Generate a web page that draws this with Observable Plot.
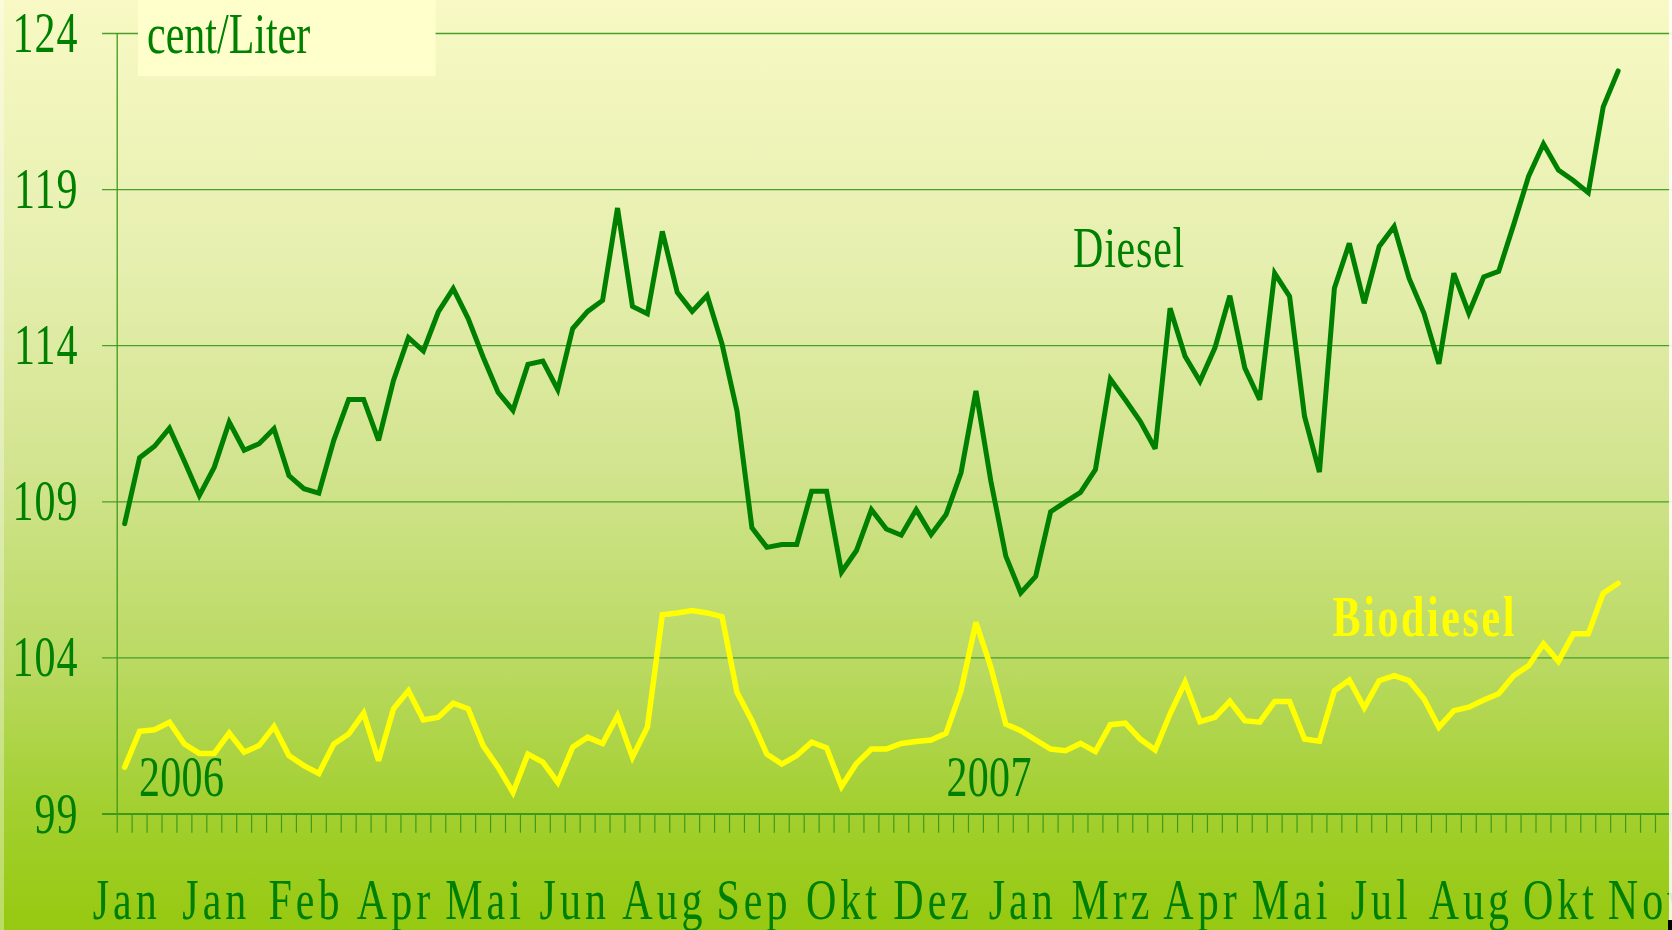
<!DOCTYPE html>
<html><head><meta charset="utf-8">
<script src="https://cdn.jsdelivr.net/npm/d3@7"></script>
<script src="https://cdn.jsdelivr.net/npm/@observablehq/plot@0.6"></script>
<style>
html,body{margin:0;padding:0;overflow:hidden;background:#fff;}
#wrap{position:relative;width:1672px;height:930px;overflow:hidden;
background:linear-gradient(to bottom,#F8F9C4 0%,#E6EFAF 28%,#D2E48F 50%,#B9D960 72%,#A4D032 86%,#96C910 100%);}
#wrap svg{display:block;position:absolute;left:0;top:0;}
.edgeL{position:absolute;left:0;top:0;width:4px;height:930px;background:rgba(255,255,255,0.35);}
.edgeR{position:absolute;right:0;top:0;width:3px;height:920px;background:rgba(255,255,255,0.85);}
.cornerR{position:absolute;right:0;bottom:0;width:4px;height:10px;background:#000;}
</style></head>
<body><div id="wrap"></div>
<script>
// Weekly prices, cent/Liter (Jan 2006 - Nov 2007)
const diesel = [
108.3,110.41,110.78,111.36,110.3,109.2,110.11,111.55,110.65,110.86,
111.34,109.84,109.42,109.28,110.97,112.28,112.28,110.97,112.89,114.26,
113.83,115.08,115.83,114.87,113.64,112.51,111.93,113.4,113.51,112.59,
114.55,115.1,115.45,118.41,115.26,115.02,117.66,115.71,115.1,115.61,
114.05,111.91,108.17,107.54,107.63,107.63,109.34,109.34,106.75,107.44,
108.75,108.13,107.93,108.75,107.95,108.59,109.93,112.55,109.66,107.26,
106.08,106.61,108.68,109.0,109.3,110.03,112.93,112.27,111.58,110.7,
115.2,113.66,112.86,113.93,115.6,113.29,112.27,116.32,115.58,111.74,
109.95,115.84,117.28,115.36,117.18,117.82,116.16,115.04,113.42,116.32,
115.04,116.2,116.38,117.87,119.42,120.46,119.63,119.29,118.9,121.65,
122.8];
const biodiesel = [
100.5,101.65,101.7,101.94,101.24,100.94,100.94,101.59,100.98,101.19,
101.8,100.87,100.55,100.3,101.24,101.56,102.23,100.71,102.37,102.95,
102.01,102.1,102.55,102.37,101.19,100.5,99.69,100.92,100.66,100.01,
101.14,101.46,101.26,102.15,100.82,101.78,105.38,105.44,105.52,105.44,
105.32,102.9,101.99,100.92,100.6,100.87,101.3,101.12,99.88,100.62,
101.08,101.08,101.26,101.32,101.37,101.59,102.95,105.14,103.7,101.88,
101.67,101.37,101.08,101.03,101.26,101.0,101.86,101.91,101.4,101.05,
102.21,103.22,101.96,102.1,102.61,101.99,101.94,102.6,102.6,101.4,
101.33,102.95,103.29,102.4,103.27,103.43,103.27,102.69,101.78,102.31,
102.42,102.65,102.85,103.43,103.75,104.45,103.89,104.77,104.77,106.07,
106.39];
const monthLabels = ["Jan","Jan","Feb","Apr","Mai","Jun","Aug","Sep","Okt","Dez","Jan","Mrz","Apr","Mai","Jul","Aug","Okt","Nov"];
const yTicks = [99,104,109,114,119,124];
const yearLabels = ["2006","2007"];
const unitLabel = "cent/Liter";
const seriesNames = ["Diesel","Biodiesel"];

const GREEN = "#008000";
const FONT = "Liberation Serif, Times New Roman, serif";
const nSlots = 104.14;           // visible category slots on the x axis
const labelEvery = 6;            // one month label every 6 weeks
const monthSpacing = 4;

const grid = "#4a9e2a";
const chart = Plot.plot({
  width: 1672, height: 930,
  marginLeft: 116.7, marginRight: 0, marginTop: 33, marginBottom: 116.5,
  x: {type: "linear", domain: [0, nSlots], axis: null},
  y: {type: "linear", domain: [99, 124], axis: null},
  style: {background: "transparent", overflow: "visible"},
  marks: [
    Plot.ruleY(yTicks.slice(1), {x1: -0.98, x2: nSlots, stroke: grid, strokeWidth: 1.3}),
    Plot.ruleX(d3.range(0, Math.floor(nSlots) + 1), {y1: 98.385, y2: 99, stroke: "#3f9a1c", strokeWidth: 1.2}),
    Plot.ruleY([99], {x1: -0.98, x2: nSlots, stroke: "#3f9a1c", strokeWidth: 2}),
    Plot.ruleX([0], {y1: 99, y2: 124, stroke: "#3f9a1c", strokeWidth: 1.3}),
    Plot.rect([0], {x1: 1.426, x2: 21.35, y1: 125.2, y2: 122.62, fill: "#FFFFCC"}),
    Plot.line(biodiesel, {x: (d, i) => i + 0.5, y: d => d, stroke: "#FFFF00", strokeWidth: 5.5,
      strokeLinejoin: "miter", strokeMiterlimit: 3, strokeLinecap: "round"}),
    Plot.line(diesel, {x: (d, i) => i + 0.5, y: d => d, stroke: GREEN, strokeWidth: 5,
      strokeLinejoin: "miter", strokeMiterlimit: 3, strokeLinecap: "round"}),
    Plot.text(yTicks, {x: -2.59, y: d => d - 0.593, text: d => String(d), textAnchor: "end",
      lineAnchor: "bottom", fill: GREEN, fontSize: 42, fontFamily: FONT}),
    Plot.text([unitLabel], {x: 2.0, y: 123.39, text: d => d, textAnchor: "start",
      lineAnchor: "bottom", fill: GREEN, fontSize: 42, fontFamily: FONT}),
    Plot.text(monthLabels, {x: (d, i) => i * labelEvery + 0.5, y: 95.65, text: d => d, dx: monthSpacing / 2,
      textAnchor: "middle", lineAnchor: "bottom", fill: GREEN, fontSize: 42, fontFamily: FONT}),
    Plot.text(yearLabels, {x: (d, i) => [1.46, 55.53][i], y: 99.59, text: d => d,
      textAnchor: "start", lineAnchor: "bottom", fill: GREEN, fontSize: 42, fontFamily: FONT}),
    Plot.text([seriesNames[0]], {x: 64.0, y: 116.51, text: d => d, textAnchor: "start",
      lineAnchor: "bottom", fill: GREEN, fontSize: 42, fontFamily: FONT}),
    Plot.text([seriesNames[1]], {x: 81.38, y: 104.71, text: d => d, textAnchor: "start",
      lineAnchor: "bottom", fill: "#FFFF00", fontSize: 42, fontWeight: "bold", fontFamily: FONT})
  ]
});

// The original chart's lettering is stretched vertically and spaced out
function spacingFor(s) {
  if (monthLabels.includes(s)) return monthSpacing;
  if (s === seriesNames[0]) return 0.8;
  if (s === seriesNames[1]) return 2.6;
  if (s === unitLabel) return 0;
  if (yearLabels.includes(s)) return 0.3;
  return 1;
}
chart.querySelectorAll("text").forEach(t => {
  const tr = t.getAttribute("transform") || "";
  t.setAttribute("transform", tr + " scale(1,1.35)");
  const ls = spacingFor(t.textContent.trim()) + "px";
  t.setAttribute("letter-spacing", ls);
  t.style.setProperty("letter-spacing", ls);
});

const wrap = document.getElementById("wrap");
wrap.appendChild(chart);
["edgeL", "edgeR", "cornerR"].forEach(c => { const d = document.createElement("div"); d.className = c; wrap.appendChild(d); });
</script>
</body></html>
